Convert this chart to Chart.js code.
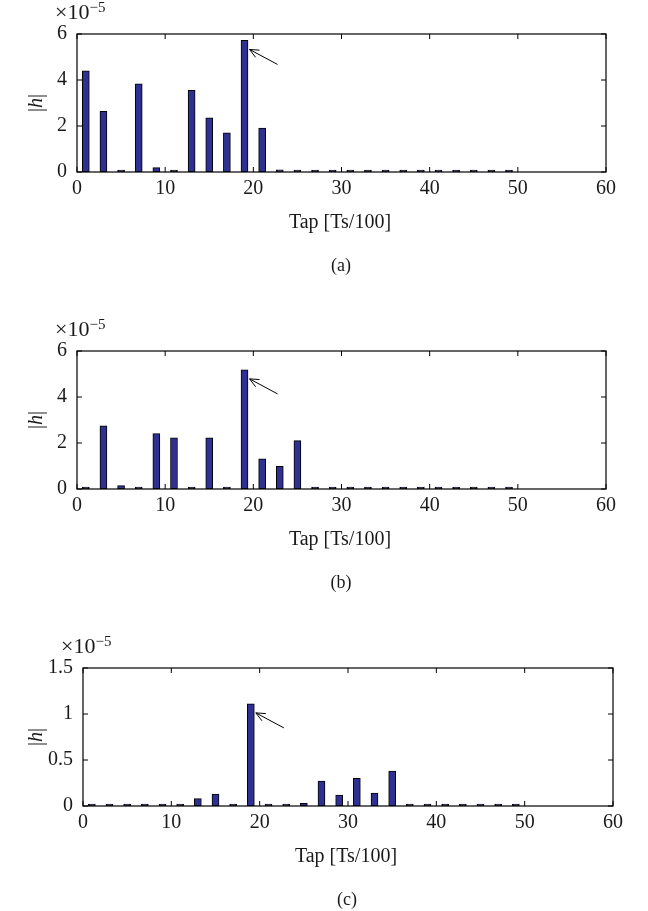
<!DOCTYPE html>
<html>
<head>
<meta charset="utf-8">
<script src="https://cdn.jsdelivr.net/npm/chart.js@4/dist/chart.umd.min.js"></script>
<style>
  html, body { margin: 0; padding: 0; background: #fff; }
  body { width: 648px; height: 911px; position: relative; overflow: hidden; font-family: "Liberation Serif", "DejaVu Serif", serif; color: #1a1a1a; }
  canvas { position: absolute; left: 0; }
  .lbl { position: absolute; white-space: nowrap; font-size: 20px; line-height: 20px; }
  .exp { position: absolute; white-space: nowrap; font-size: 22px; line-height: 20px; }
  .exp sup { font-size: 15px; position: relative; top: -5px; vertical-align: top; }
  .ylab { position: absolute; white-space: nowrap; font-size: 20px; line-height: 20px; transform: translate(-50%, -50%) rotate(-90deg); }
  .ctr { transform: translateX(-50%); }
</style>
</head>
<body>
<canvas id="ca" width="648" height="240" style="top:0px"></canvas>
<canvas id="cb" width="648" height="240" style="top:317px"></canvas>
<canvas id="cc" width="648" height="240" style="top:634px"></canvas>

<div class="exp" style="left:55px; top:2px;">×10<sup>−5</sup></div>
<div class="ylab" style="left:35px; top:103px;">|<i>h</i>|</div>
<div class="lbl ctr" style="left:340px; top:211px;">Tap [Ts/100]</div>
<div class="lbl ctr" style="left:341px; top:255px; font-size:18px;">(a)</div>

<div class="exp" style="left:55px; top:319px;">×10<sup>−5</sup></div>
<div class="ylab" style="left:35px; top:420px;">|<i>h</i>|</div>
<div class="lbl ctr" style="left:340px; top:528px;">Tap [Ts/100]</div>
<div class="lbl ctr" style="left:341px; top:572px; font-size:18px;">(b)</div>

<div class="exp" style="left:61px; top:636px;">×10<sup>−5</sup></div>
<div class="ylab" style="left:35px; top:737px;">|<i>h</i>|</div>
<div class="lbl ctr" style="left:346px; top:845px;">Tap [Ts/100]</div>
<div class="lbl ctr" style="left:347px; top:889px; font-size:18px;">(c)</div>

<script>
// ---- data (values in units of 1e-5) ----
const taps = [1,3,5,7,9,11,13,15,17,19,21,23,25,27,29,31,33,35,37,39,41,43,45,47,49];
const valuesA = [4.40,2.64,0,3.83,0.19,0,3.55,2.35,1.70,5.72,1.91,0.09,0,0,0,0,0,0,0,0,0,0,0,0,0];
const valuesB = [0,2.75,0.15,0,2.41,2.22,0,2.23,0.07,5.18,1.31,0.99,2.10,0,0,0,0,0,0,0,0,0,0,0,0];
const valuesC = [0,0,0,0,0,0,0.08,0.13,0,1.11,0.02,0,0.03,0.27,0.12,0.30,0.14,0.38,0,0,0,0,0,0,0];
const xTicks = [0,10,20,30,40,50,60];
const yTicksAB = [0,2,4,6];
const yTicksC = [0,0.5,1,1.5];

const barFill = 'rgb(46,49,146)';
const tickFont = { family: '"Liberation Serif", "DejaVu Serif", serif', size: 20 };

const framePlugin = {
  id: 'frame',
  afterDatasetsDraw(chart) {
    const { ctx, chartArea: a, scales } = chart;
    ctx.save();
    ctx.strokeStyle = '#000';
    ctx.lineWidth = 1.2;
    ctx.strokeRect(a.left, a.top, a.right - a.left, a.bottom - a.top);
    ctx.lineWidth = 1;
    ctx.beginPath();
    scales.x.ticks.forEach(t => {
      const x = scales.x.getPixelForValue(t.value);
      ctx.moveTo(x, a.bottom); ctx.lineTo(x, a.bottom - 5);
      ctx.moveTo(x, a.top); ctx.lineTo(x, a.top + 5);
    });
    scales.y.ticks.forEach(t => {
      const y = scales.y.getPixelForValue(t.value);
      ctx.moveTo(a.left, y); ctx.lineTo(a.left + 5, y);
      ctx.moveTo(a.right, y); ctx.lineTo(a.right - 5, y);
    });
    ctx.stroke();
    // arrow pointing at the largest tap
    const ds = chart.data.datasets[0].data;
    let im = 0;
    ds.forEach((d, i) => { if (d.y > ds[im].y) im = i; });
    const el = chart.getDatasetMeta(0).data[im];
    const tx = el.x + 5, ty = el.y + 9;
    const sx = tx + 28, sy = ty + 15;
    const ang = Math.atan2(ty - sy, tx - sx);
    const L = 10, spread = 0.42;
    ctx.beginPath();
    ctx.moveTo(sx, sy); ctx.lineTo(tx, ty);
    ctx.moveTo(tx - L * Math.cos(ang - spread), ty - L * Math.sin(ang - spread));
    ctx.lineTo(tx, ty);
    ctx.lineTo(tx - L * Math.cos(ang + spread), ty - L * Math.sin(ang + spread));
    ctx.stroke();
    ctx.restore();
  }
};

function makeChart(id, values, yTicks, leftW, rightEdge) {
  const data = taps.map((t, i) => ({ x: t, y: values[i] }));
  return new Chart(document.getElementById(id), {
    type: 'bar',
    data: { datasets: [{
      data,
      backgroundColor: barFill,
      borderColor: '#000',
      borderWidth: 1,
      borderSkipped: false,
      minBarLength: 2,
      barThickness: 7
    }]},
    options: {
      responsive: false,
      animation: false,
      events: [],
      layout: { padding: { left: 0, right: 648 - rightEdge, top: 34, bottom: 0 } },
      plugins: { legend: { display: false }, tooltip: { enabled: false } },
      scales: {
        x: {
          type: 'linear', min: xTicks[0], max: xTicks[xTicks.length - 1],
          offset: false,
          grid: { display: false, drawTicks: false, offset: false },
          border: { display: false },
          afterBuildTicks: s => { s.ticks = xTicks.map(v => ({ value: v })); },
          afterFit: s => { s.height = 240 - 172; },
          ticks: { font: tickFont, color: '#1a1a1a', padding: 5, maxRotation: 0, autoSkip: false }
        },
        y: {
          min: yTicks[0], max: yTicks[yTicks.length - 1],
          grid: { display: false, drawTicks: false },
          border: { display: false },
          afterBuildTicks: s => { s.ticks = yTicks.map(v => ({ value: v })); },
          afterFit: s => { s.width = leftW; },
          ticks: { font: tickFont, color: '#1a1a1a', padding: 10, callback: v => String(v) }
        }
      }
    },
    plugins: [framePlugin]
  });
}

makeChart('ca', valuesA, yTicksAB, 77, 606);
makeChart('cb', valuesB, yTicksAB, 77, 606);
makeChart('cc', valuesC, yTicksC, 83, 613);
</script>
</body>
</html>
